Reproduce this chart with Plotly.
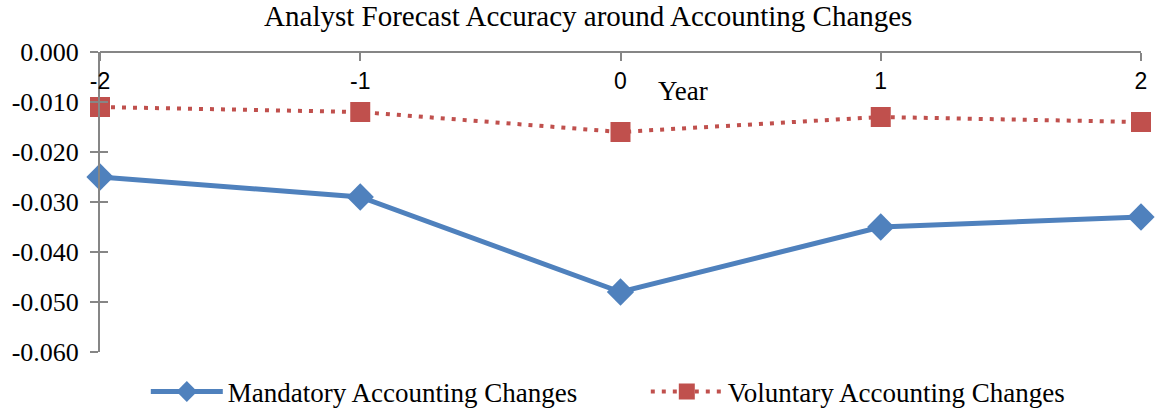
import plotly.graph_objects as go

years = [-2, -1, 0, 1, 2]
year_labels = ["-2", "-1", "0", "1", "2"]
mandatory = [-0.025, -0.029, -0.048, -0.035, -0.033]
voluntary = [-0.011, -0.012, -0.016, -0.013, -0.014]
y_ticks = [0, -0.01, -0.02, -0.03, -0.04, -0.05, -0.06]
y_tick_labels = ["0.000", "-0.010", "-0.020", "-0.030", "-0.040", "-0.050", "-0.060"]

BLUE = "#4F81BD"
RED = "#C0504D"
AXIS = "#868686"
FONT = "Liberation Serif, Times New Roman, serif"

fig = go.Figure()
fig.add_trace(go.Scatter(
    x=years, y=mandatory, name="Mandatory Accounting Changes",
    mode="lines+markers", cliponaxis=False,
    line=dict(color=BLUE, width=5),
    marker=dict(symbol="diamond", size=21, color=BLUE),
))
fig.add_trace(go.Scatter(
    x=years, y=voluntary, name="Voluntary Accounting Changes",
    mode="lines+markers", cliponaxis=False,
    line=dict(color=RED, width=4, dash="4px,7px"),
    marker=dict(symbol="square", size=20, color=RED),
))
# invisible trace for second y-axis (cross ticks)
fig.add_trace(go.Scatter(x=[years[0]], y=[y_ticks[0]], yaxis="y2", mode="markers",
                         marker=dict(opacity=0), showlegend=False, hoverinfo="skip"))

fig.update_layout(
    width=1158, height=413,
    margin=dict(l=100, r=17, t=52, b=61, autoexpand=False),
    paper_bgcolor="white", plot_bgcolor="white",
    font=dict(family=FONT, size=26, color="black"),
    title=dict(text="Analyst Forecast Accuracy around Accounting Changes",
               x=0.508, xanchor="center", y=0.961, yanchor="middle",
               font=dict(family=FONT, size=29)),
    xaxis=dict(
        range=[-2, 2], tickvals=years, ticktext=year_labels,
        side="bottom", anchor="free", position=1,
        showline=True, linecolor=AXIS, linewidth=2,
        ticks="outside", ticklen=8, tickcolor=AXIS, tickwidth=2,
        showgrid=False, zeroline=False, automargin=False,
        tickfont=dict(family="Liberation Sans, Arial, sans-serif", size=23, color="black"),
    ),
    yaxis=dict(
        range=[-0.06, 0], tickvals=y_ticks, ticktext=y_tick_labels,
        showline=True, linecolor=AXIS, linewidth=2,
        ticks="outside", ticklen=8, tickcolor=AXIS, tickwidth=2,
        showgrid=False, zeroline=False, automargin=False,
        ticklabelstandoff=6,
        tickfont=dict(family=FONT, size=26, color="black"),
    ),
    yaxis2=dict(
        range=[-0.06, 0], tickvals=y_ticks, overlaying="y", side="left",
        ticks="inside", ticklen=8, tickcolor=AXIS, tickwidth=2,
        showticklabels=False, showline=False, showgrid=False, zeroline=False,
        automargin=False,
    ),
    legend=dict(orientation="h", x=0.044, xanchor="left",
                yref="container", y=0.051, yanchor="middle",
                font=dict(family=FONT, size=27), itemwidth=72,
                entrywidth=413, entrywidthmode="pixels",
                traceorder="normal"),
    annotations=[dict(text="Year", x=0.24, xref="x", y=-0.0077, yref="y",
                      showarrow=False, xanchor="center", yanchor="middle",
                      font=dict(family=FONT, size=27))],
)

fig.write_html("out.html", config={"displayModeBar": False},
               post_script="document.body.style.margin='0';")
